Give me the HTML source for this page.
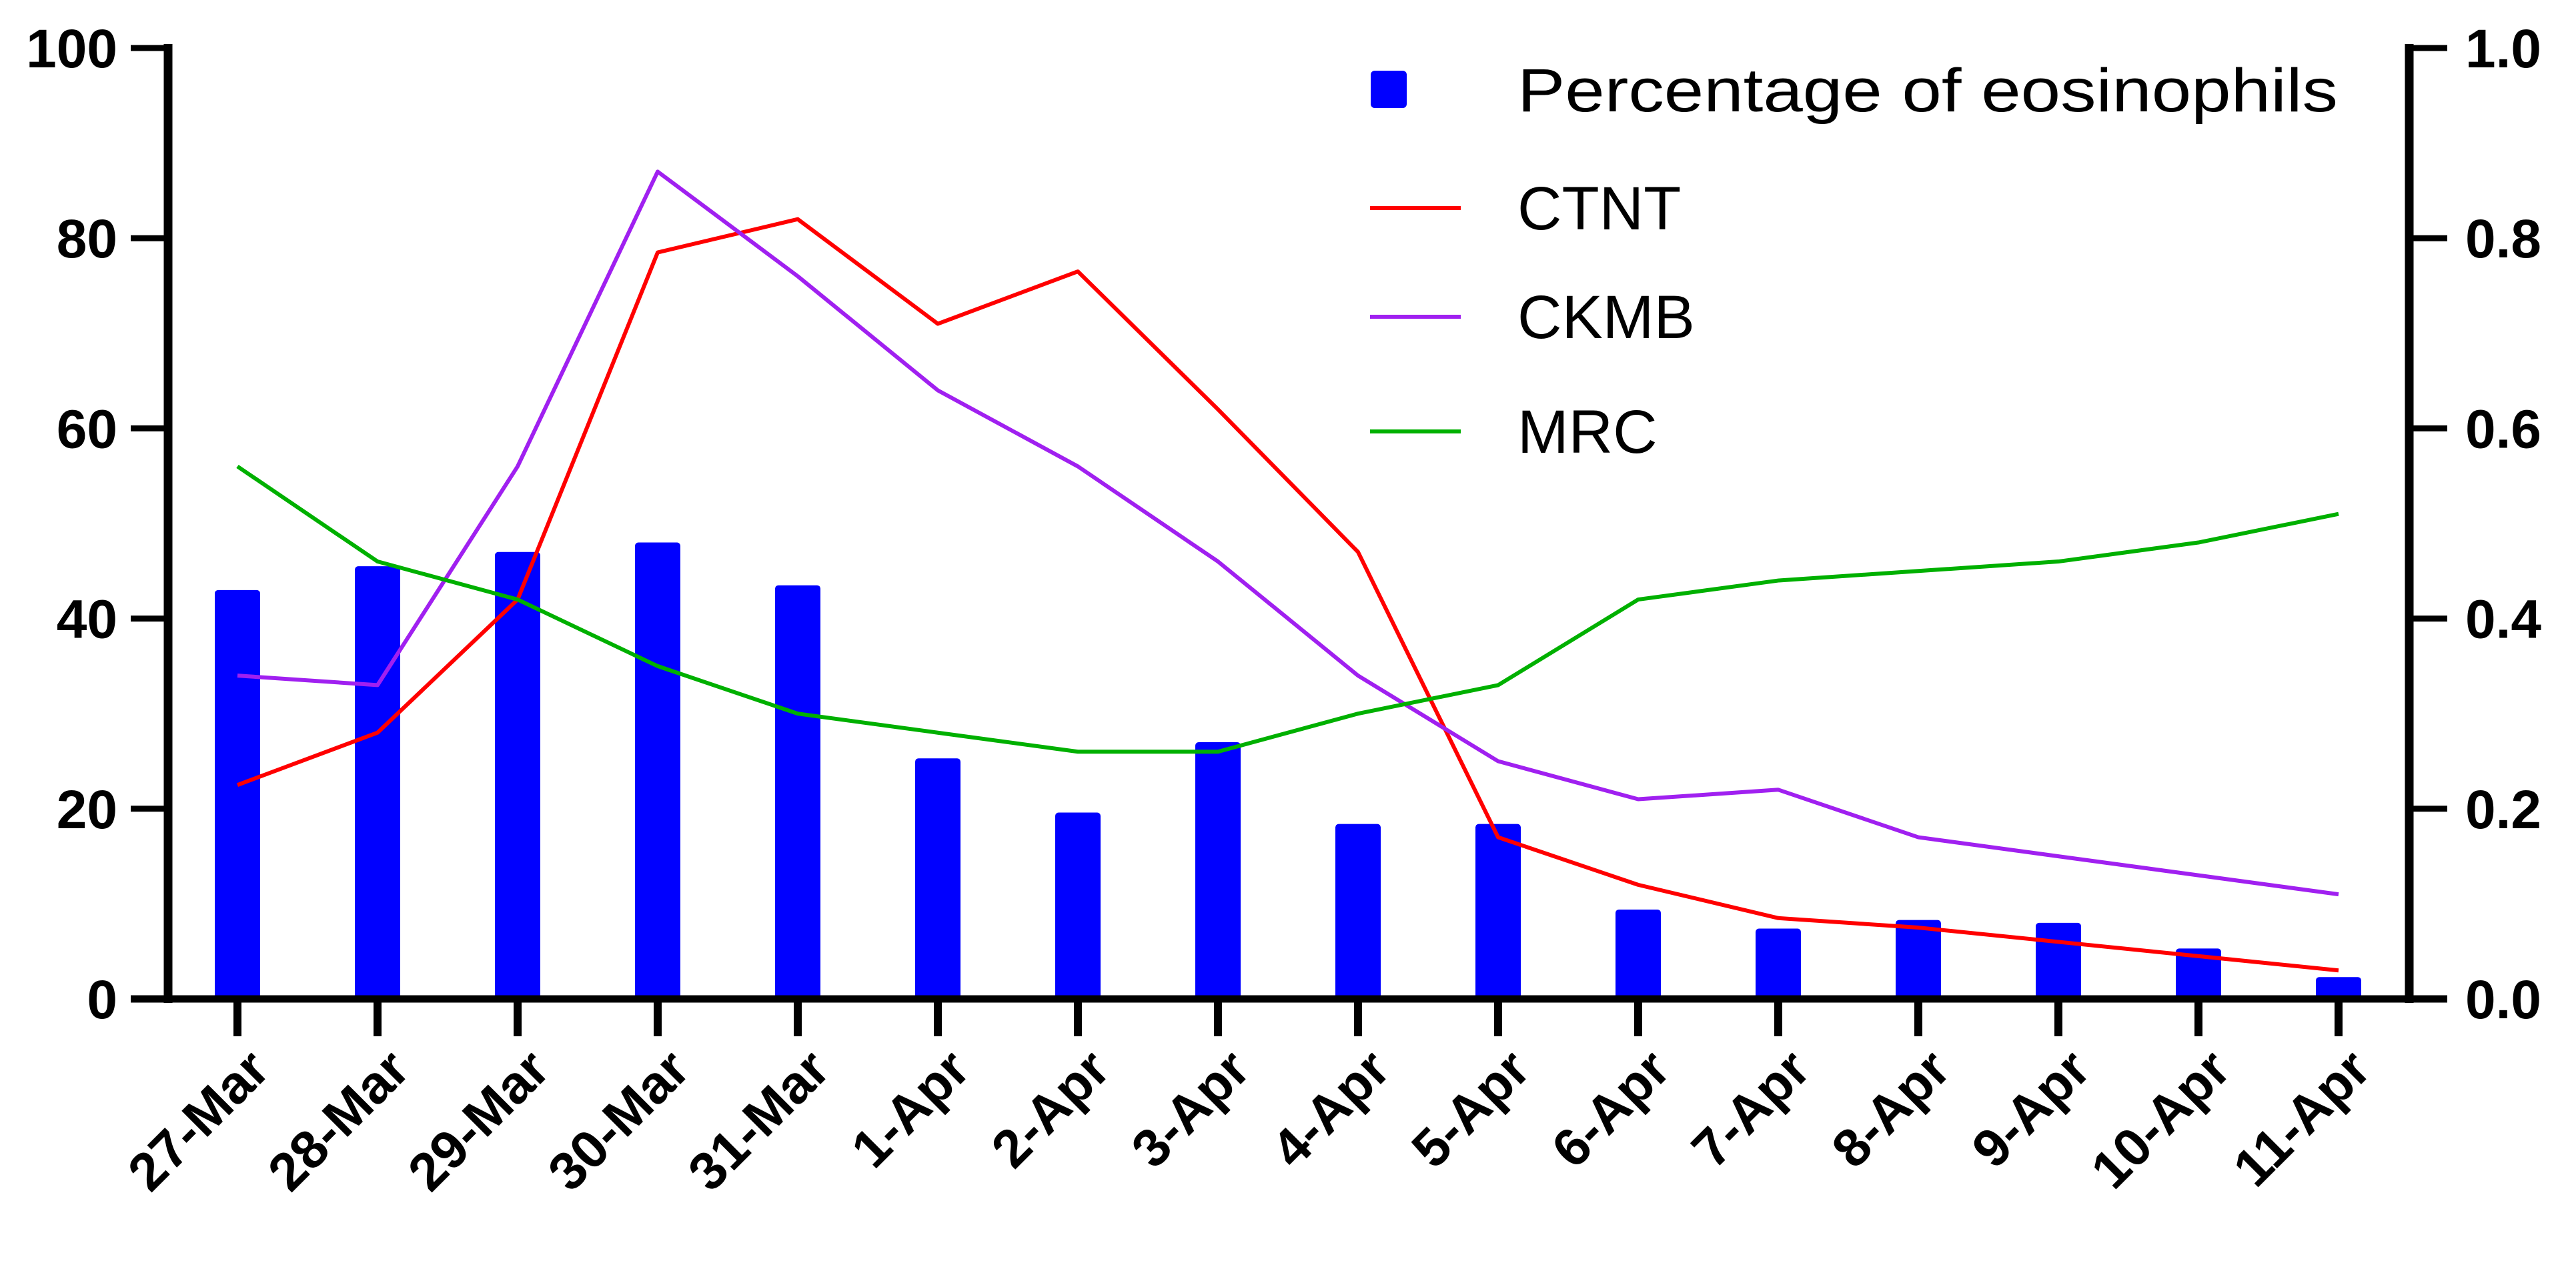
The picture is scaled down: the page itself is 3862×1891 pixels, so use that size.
<!DOCTYPE html>
<html><head><meta charset="utf-8"><style>body{margin:0;background:#fff}svg{display:block}</style></head>
<body>
<svg id="c" width="3862" height="1891" xmlns="http://www.w3.org/2000/svg" font-family="Liberation Sans, Arial, sans-serif">
</svg>
<script>
const categories=["27-Mar","28-Mar","29-Mar","30-Mar","31-Mar","1-Apr","2-Apr","3-Apr","4-Apr","5-Apr","6-Apr","7-Apr","8-Apr","9-Apr","10-Apr","11-Apr"];
const eosinophils=[43,45.5,47,48,43.5,25.3,19.6,27,18.4,18.4,9.4,7.4,8.3,8,5.3,2.3];
const ctnt=[0.225,0.28,0.42,0.785,0.82,0.71,0.765,0.62,0.47,0.17,0.12,0.085,0.075,0.06,0.045,0.03];
const ckmb=[0.34,0.33,0.56,0.87,0.76,0.64,0.56,0.46,0.34,0.25,0.21,0.22,0.17,0.15,0.13,0.11];
const mrc=[0.56,0.46,0.42,0.35,0.30,0.28,0.26,0.26,0.30,0.33,0.42,0.44,0.45,0.46,0.48,0.51];
const leftTicks=[0,20,40,60,80,100];
const rightTicks=["0.0","0.2","0.4","0.6","0.8","1.0"];

const svg=document.getElementById('c');
const NS='http://www.w3.org/2000/svg';
const X0=356,DX=210,Y0=1498,Y100=72,AXL=252,AXR=3612;
const x=i=>X0+i*DX;
const yL=v=>Y0-(v/100)*(Y0-Y100);
const yR=v=>Y0-v*(Y0-Y100);
function el(t,a){const e=document.createElementNS(NS,t);for(const k in a)e.setAttribute(k,a[k]);svg.appendChild(e);return e;}

eosinophils.forEach((v,i)=>{
 const r=el('rect',{x:x(i)-34,y:yL(v),width:68,height:Y0-yL(v),fill:'#0000ff',rx:5});
 
 
});
[[ctnt,'#ff0000','ctnt-line'],[ckmb,'#a020f0','ckmb-line'],[mrc,'#00b000','mrc-line']].forEach(([d,c,n])=>{
 const p=el('polyline',{points:d.map((v,i)=>x(i)+','+yR(v)).join(' '),fill:'none',stroke:c,'stroke-width':6,'stroke-linejoin':'round'});
 
 
});
let a=el('line',{x1:AXL,y1:66,x2:AXL,y2:Y0+6,stroke:'#000','stroke-width':13});

a=el('line',{x1:AXR,y1:66,x2:AXR,y2:Y0+6,stroke:'#000','stroke-width':13});

a=el('line',{x1:196,y1:Y0,x2:3669,y2:Y0,stroke:'#000','stroke-width':11});

leftTicks.forEach(v=>{
 el('line',{x1:196,y1:yL(v),x2:AXL,y2:yL(v),stroke:'#000','stroke-width':9});
 const t=el('text',{x:176,y:yL(v)+29,'text-anchor':'end','font-size':82,'font-weight':'bold'});
 t.textContent=v;
 
 
});
rightTicks.forEach((s,i)=>{
 const yy=yR(i*0.2);
 el('line',{x1:AXR,y1:yy,x2:3669,y2:yy,stroke:'#000','stroke-width':9});
 const t=el('text',{x:3696,y:yy+29,'font-size':82,'font-weight':'bold'});
 t.textContent=s;
 
 
});
categories.forEach((c,i)=>{
 el('line',{x1:x(i),y1:Y0,x2:x(i),y2:Y0+56,stroke:'#000','stroke-width':12});
 const t=el('text',{x:x(i)+52,y:Y0+110,'text-anchor':'end','font-size':80,'font-weight':'bold',transform:`rotate(-45 ${x(i)+52} ${Y0+110})`});
 t.textContent=c;
 
 
});
let g=el('rect',{x:2055,y:106,width:54,height:56,fill:'#0000ff',rx:6});

const leg=[['Percentage of eosinophils',null,135],['CTNT','#ff0000',312],['CKMB','#a020f0',475],['MRC','#00b000',647]];
leg.forEach(([s,c,yy])=>{
 if(c){const l=el('line',{x1:2054,y1:yy,x2:2190,y2:yy,stroke:c,'stroke-width':6});
  }
 const t=el('text',{x:2275,y:yy+32,'font-size':92});
 if(!c){t.setAttribute('textLength',1230);t.setAttribute('lengthAdjust','spacingAndGlyphs');}
 t.textContent=s;
 
 
});
</script>
</body></html>
